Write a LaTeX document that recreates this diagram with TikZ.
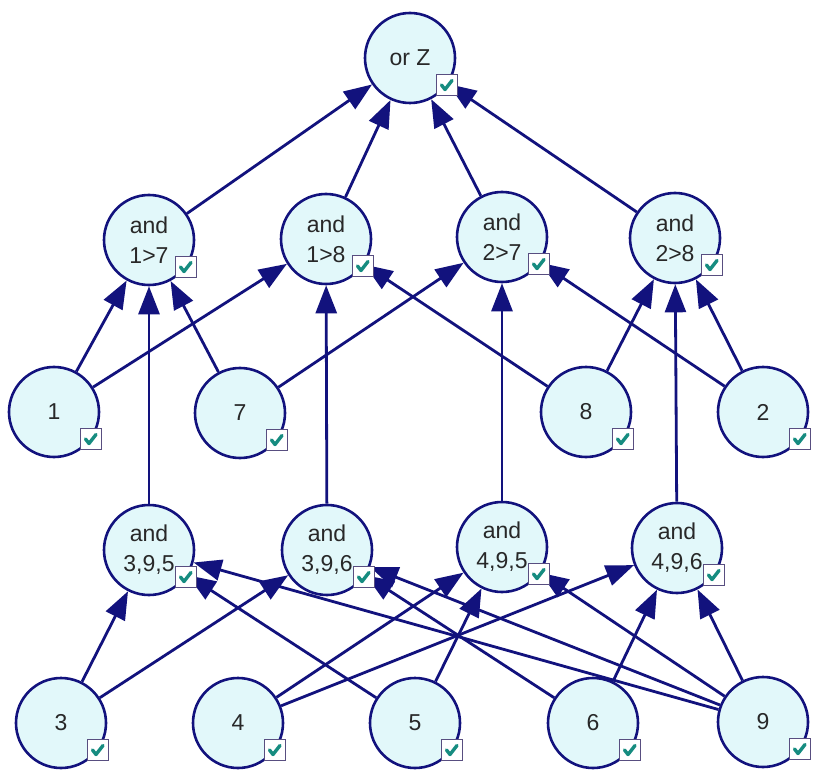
\documentclass[tikz,border=0pt]{standalone}
\usepackage{fontspec}
\setmainfont{Liberation Sans}
\usetikzlibrary{arrows.meta}
\definecolor{edgeblue}{RGB}{18,18,125}
\definecolor{nodefill}{RGB}{226,248,250}
\definecolor{tickgreen}{RGB}{22,140,128}
\definecolor{boxline}{RGB}{88,78,128}
\definecolor{labelgray}{RGB}{40,40,40}
\begin{document}
\begin{tikzpicture}[x=1pt,y=-1pt,
  var/.style={circle,draw=edgeblue,line width=2.6pt,fill=nodefill,minimum size=90pt,inner sep=0pt,
    text=labelgray,font=\fontsize{23}{30}\selectfont,align=center},
  arr/.style={draw=edgeblue,line width=2.8pt,-{Triangle[length=28pt,width=21pt]}},
  chkbox/.style={draw=boxline,line width=1.2pt,fill=white,minimum size=21pt,inner sep=0pt},
  tick/.style={draw=tickgreen,line width=3.4pt,line cap=round,line join=round}]
\useasboundingbox (0,0) rectangle (821,775);

% top
\node[var] (orz) at (410,58) {or Z};

% and 1>7 ... 2>8
\node[var] (a17) at (149,240) {and\\1>7};
\node[var] (a18) at (326,239) {and\\1>8};
\node[var] (a27) at (502,237) {and\\2>7};
\node[var] (a28) at (675,238) {and\\2>8};

% 1 7 8 2
\node[var] (n1) at (54,412) {1};
\node[var] (n7) at (240,413) {7};
\node[var] (n8) at (586,412) {8};
\node[var] (n2) at (763,412) {2};

% and 3,9,5 ... 4,9,6
\node[var] (a395) at (149,550) {and\\3,9,5};
\node[var] (a396) at (327,550) {and\\3,9,6};
\node[var] (a495) at (502,547) {and\\4,9,5};
\node[var] (a496) at (677,548) {and\\4,9,6};

% 3 4 5 6 9
\node[var] (n3) at (61,723) {3};
\node[var] (n4) at (238,723) {4};
\node[var] (n5) at (415,723) {5};
\node[var] (n6) at (593,723) {6};
\node[var] (n9) at (763,722) {9};

\foreach \s/\t in {a17/orz,a18/orz,a27/orz,a28/orz,
    n1/a17,n7/a17,a395/a17, n1/a18,n8/a18,a396/a18,
    n7/a27,n2/a27,a495/a27, n8/a28,n2/a28,a496/a28,
    n3/a395,n5/a395,n9/a395, n3/a396,n6/a396,n9/a396,
    n4/a495,n5/a495,n9/a495, n4/a496,n6/a496,n9/a496}
  \draw[arr] (\s) -- (\t);

% check boxes
\foreach \n in {orz,a17,a18,a27,a28,n1,n7,n8,n2,a395,a396,a495,a496,n3,n4,n5,n6,n9} {
  \node[chkbox] (\n-c) at ([shift={(37,27)}]\n.center) {};
  \draw[tick] ([shift={(-5.5,0)}]\n-c.center) -- ++(3.5,4.5) -- ++(7,-9);
}
\end{tikzpicture}
\end{document}
